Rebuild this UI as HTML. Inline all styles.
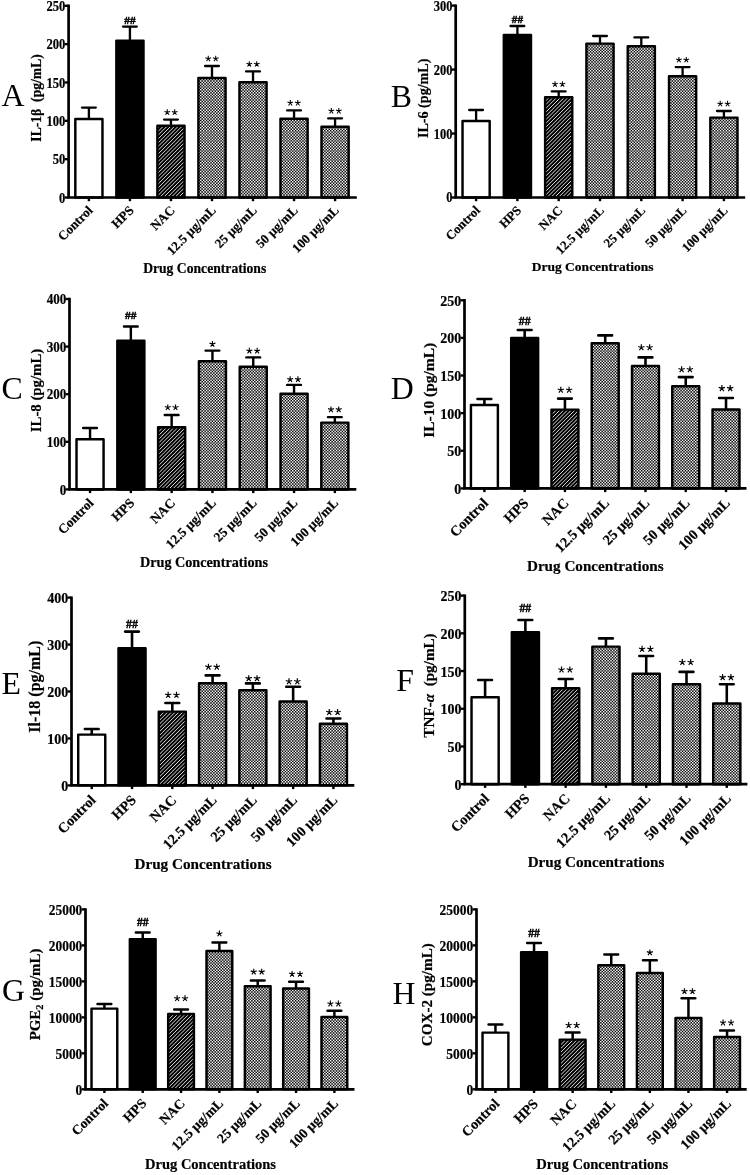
<!DOCTYPE html>
<html><head><meta charset="utf-8"><title>Figure</title>
<style>
html,body{margin:0;padding:0;background:#fff;}
svg{display:block;filter:grayscale(1);}
text{font-family:"Liberation Serif",serif;fill:#000;}
.b{font-weight:bold;stroke:#000;stroke-width:0.2px;}
.s{font-family:"Liberation Sans",sans-serif;}
</style></head>
<body>
<svg width="750" height="1175" viewBox="0 0 750 1175">
<defs>
<pattern id="dots" width="73" height="73" patternUnits="userSpaceOnUse"><rect width="73" height="73" fill="#000"/><path d="M0 0.73h73M0 3.65h73M0 6.57h73M0 9.49h73M0 12.41h73M0 15.33h73M0 18.25h73M0 21.17h73M0 24.09h73M0 27.01h73M0 29.93h73M0 32.85h73M0 35.77h73M0 38.69h73M0 41.61h73M0 44.53h73M0 47.45h73M0 50.37h73M0 53.29h73M0 56.21h73M0 59.13h73M0 62.05h73M0 64.97h73M0 67.89h73M0 70.81h73" stroke="#fff" stroke-width="1.46" stroke-dasharray="1.46 1.46" fill="none"/><path d="M0 2.19h73M0 5.11h73M0 8.03h73M0 10.95h73M0 13.87h73M0 16.79h73M0 19.71h73M0 22.63h73M0 25.55h73M0 28.47h73M0 31.39h73M0 34.31h73M0 37.23h73M0 40.15h73M0 43.07h73M0 45.99h73M0 48.91h73M0 51.83h73M0 54.75h73M0 57.67h73M0 60.59h73M0 63.51h73M0 66.43h73M0 69.35h73M0 72.27h73" stroke="#fff" stroke-width="1.46" stroke-dasharray="1.46 1.46" stroke-dashoffset="1.46" fill="none"/></pattern>
<pattern id="hatch" width="94" height="94" patternUnits="userSpaceOnUse"><rect width="94" height="94" fill="#000"/><path d="M-96 96L2 -2M-92.24 96L5.76 -2M-88.48 96L9.52 -2M-84.72 96L13.28 -2M-80.96 96L17.04 -2M-77.2 96L20.8 -2M-73.44 96L24.56 -2M-69.68 96L28.32 -2M-65.92 96L32.08 -2M-62.16 96L35.84 -2M-58.4 96L39.6 -2M-54.64 96L43.36 -2M-50.88 96L47.12 -2M-47.12 96L50.88 -2M-43.36 96L54.64 -2M-39.6 96L58.4 -2M-35.84 96L62.16 -2M-32.08 96L65.92 -2M-28.32 96L69.68 -2M-24.56 96L73.44 -2M-20.8 96L77.2 -2M-17.04 96L80.96 -2M-13.28 96L84.72 -2M-9.52 96L88.48 -2M-5.76 96L92.24 -2M-2 96L96 -2M1.76 96L99.76 -2M5.52 96L103.52 -2M9.28 96L107.28 -2M13.04 96L111.04 -2M16.8 96L114.8 -2M20.56 96L118.56 -2M24.32 96L122.32 -2M28.08 96L126.08 -2M31.84 96L129.84 -2M35.6 96L133.6 -2M39.36 96L137.36 -2M43.12 96L141.12 -2M46.88 96L144.88 -2M50.64 96L148.64 -2M54.4 96L152.4 -2M58.16 96L156.16 -2M61.92 96L159.92 -2M65.68 96L163.68 -2M69.44 96L167.44 -2M73.2 96L171.2 -2M76.96 96L174.96 -2M80.72 96L178.72 -2M84.48 96L182.48 -2M88.24 96L186.24 -2M92 96L190 -2" stroke="#e4e4e4" stroke-width="0.98" fill="none"/></pattern>
</defs>
<rect width="750" height="1175" fill="#fff"/>
<g id="panel-A">
<path d="M88.9 118.8 V107.6 M82 107.6 H95.8" stroke="#000" stroke-width="2.33" fill="none" stroke-linecap="round"/>
<rect x="75.32" y="119.03" width="27.15" height="78.47" fill="#fff" stroke="#000" stroke-width="2.45" stroke-linejoin="round"/>
<path d="M88.9 197.5 v3.7" stroke="#000" stroke-width="2.4" fill="none"/>
<text class="b" font-size="13" text-anchor="end" transform="translate(93.5 211.1) rotate(-45)">Control</text>
<path d="M129.93 40.4 V26.6 M123.03 26.6 H136.83" stroke="#000" stroke-width="2.33" fill="none" stroke-linecap="round"/>
<rect x="116.35" y="40.62" width="27.15" height="156.88" fill="#000" stroke="#000" stroke-width="2.45" stroke-linejoin="round"/>
<text class="b" x="129.93" y="24" font-size="10.92" text-anchor="middle" textLength="11.26" lengthAdjust="spacingAndGlyphs" style="stroke-width:0.45px">##</text>
<path d="M129.93 197.5 v3.7" stroke="#000" stroke-width="2.4" fill="none"/>
<text class="b" font-size="13" text-anchor="end" transform="translate(134.53 211.1) rotate(-45)">HPS</text>
<path d="M170.96 125.6 V119.6 M164.06 119.6 H177.86" stroke="#000" stroke-width="2.33" fill="none" stroke-linecap="round"/>
<rect x="157.38" y="125.83" width="27.15" height="71.67" fill="url(#hatch)" stroke="#000" stroke-width="2.45" stroke-linejoin="round"/>
<path d="M0 0L0.00 -2.95M0 0L2.81 -0.91M0 0L1.73 2.39M0 0L-1.73 2.39M0 0L-2.81 -0.91" transform="translate(167.22 112.33) scale(1.01)" stroke="#000" stroke-width="1.05" fill="none"/>
<path d="M0 0L0.00 -2.95M0 0L2.81 -0.91M0 0L1.73 2.39M0 0L-1.73 2.39M0 0L-2.81 -0.91" transform="translate(174.7 112.33) scale(1.01)" stroke="#000" stroke-width="1.05" fill="none"/>
<path d="M170.96 197.5 v3.7" stroke="#000" stroke-width="2.4" fill="none"/>
<text class="b" font-size="13" text-anchor="end" transform="translate(175.56 211.1) rotate(-45)">NAC</text>
<path d="M211.99 77.8 V66 M205.09 66 H218.89" stroke="#000" stroke-width="2.33" fill="none" stroke-linecap="round"/>
<rect x="198.41" y="78.03" width="27.15" height="119.47" fill="url(#dots)" stroke="#000" stroke-width="2.45" stroke-linejoin="round"/>
<path d="M0 0L0.00 -2.95M0 0L2.81 -0.91M0 0L1.73 2.39M0 0L-1.73 2.39M0 0L-2.81 -0.91" transform="translate(208.25 58.73) scale(1.01)" stroke="#000" stroke-width="1.05" fill="none"/>
<path d="M0 0L0.00 -2.95M0 0L2.81 -0.91M0 0L1.73 2.39M0 0L-1.73 2.39M0 0L-2.81 -0.91" transform="translate(215.73 58.73) scale(1.01)" stroke="#000" stroke-width="1.05" fill="none"/>
<path d="M211.99 197.5 v3.7" stroke="#000" stroke-width="2.4" fill="none"/>
<text class="b" font-size="13" text-anchor="end" transform="translate(216.59 211.1) rotate(-45)">12.5 µg/mL</text>
<path d="M253.02 82 V71.4 M246.12 71.4 H259.92" stroke="#000" stroke-width="2.33" fill="none" stroke-linecap="round"/>
<rect x="239.44" y="82.22" width="27.15" height="115.28" fill="url(#dots)" stroke="#000" stroke-width="2.45" stroke-linejoin="round"/>
<path d="M0 0L0.00 -2.95M0 0L2.81 -0.91M0 0L1.73 2.39M0 0L-1.73 2.39M0 0L-2.81 -0.91" transform="translate(249.28 64.13) scale(1.01)" stroke="#000" stroke-width="1.05" fill="none"/>
<path d="M0 0L0.00 -2.95M0 0L2.81 -0.91M0 0L1.73 2.39M0 0L-1.73 2.39M0 0L-2.81 -0.91" transform="translate(256.76 64.13) scale(1.01)" stroke="#000" stroke-width="1.05" fill="none"/>
<path d="M253.02 197.5 v3.7" stroke="#000" stroke-width="2.4" fill="none"/>
<text class="b" font-size="13" text-anchor="end" transform="translate(257.62 211.1) rotate(-45)">25 µg/mL</text>
<path d="M294.05 118.6 V110.3 M287.15 110.3 H300.95" stroke="#000" stroke-width="2.33" fill="none" stroke-linecap="round"/>
<rect x="280.48" y="118.83" width="27.15" height="78.67" fill="url(#dots)" stroke="#000" stroke-width="2.45" stroke-linejoin="round"/>
<path d="M0 0L0.00 -2.95M0 0L2.81 -0.91M0 0L1.73 2.39M0 0L-1.73 2.39M0 0L-2.81 -0.91" transform="translate(290.31 103.03) scale(1.01)" stroke="#000" stroke-width="1.05" fill="none"/>
<path d="M0 0L0.00 -2.95M0 0L2.81 -0.91M0 0L1.73 2.39M0 0L-1.73 2.39M0 0L-2.81 -0.91" transform="translate(297.79 103.03) scale(1.01)" stroke="#000" stroke-width="1.05" fill="none"/>
<path d="M294.05 197.5 v3.7" stroke="#000" stroke-width="2.4" fill="none"/>
<text class="b" font-size="13" text-anchor="end" transform="translate(298.65 211.1) rotate(-45)">50 µg/mL</text>
<path d="M335.08 126.6 V118.3 M328.18 118.3 H341.98" stroke="#000" stroke-width="2.33" fill="none" stroke-linecap="round"/>
<rect x="321.5" y="126.83" width="27.15" height="70.67" fill="url(#dots)" stroke="#000" stroke-width="2.45" stroke-linejoin="round"/>
<path d="M0 0L0.00 -2.95M0 0L2.81 -0.91M0 0L1.73 2.39M0 0L-1.73 2.39M0 0L-2.81 -0.91" transform="translate(331.34 111.03) scale(1.01)" stroke="#000" stroke-width="1.05" fill="none"/>
<path d="M0 0L0.00 -2.95M0 0L2.81 -0.91M0 0L1.73 2.39M0 0L-1.73 2.39M0 0L-2.81 -0.91" transform="translate(338.82 111.03) scale(1.01)" stroke="#000" stroke-width="1.05" fill="none"/>
<path d="M335.08 197.5 v3.7" stroke="#000" stroke-width="2.4" fill="none"/>
<text class="b" font-size="13" text-anchor="end" transform="translate(339.68 211.1) rotate(-45)">100 µg/mL</text>
<path d="M68.6 4.6 V197.5 H356.8" stroke="#000" stroke-width="2.7" fill="none" stroke-linejoin="miter"/>
<path d="M68.6 197.5 h-3.9" stroke="#000" stroke-width="2.35" fill="none"/>
<text class="b" font-size="13.71" text-anchor="end" transform="translate(65.4 202.53) scale(0.92 1)">0</text>
<path d="M68.6 159.16 h-3.9" stroke="#000" stroke-width="2.35" fill="none"/>
<text class="b" font-size="13.71" text-anchor="end" transform="translate(65.4 164.19) scale(0.92 1)">50</text>
<path d="M68.6 120.82 h-3.9" stroke="#000" stroke-width="2.35" fill="none"/>
<text class="b" font-size="13.71" text-anchor="end" transform="translate(65.4 125.85) scale(0.92 1)">100</text>
<path d="M68.6 82.48 h-3.9" stroke="#000" stroke-width="2.35" fill="none"/>
<text class="b" font-size="13.71" text-anchor="end" transform="translate(65.4 87.51) scale(0.92 1)">150</text>
<path d="M68.6 44.14 h-3.9" stroke="#000" stroke-width="2.35" fill="none"/>
<text class="b" font-size="13.71" text-anchor="end" transform="translate(65.4 49.17) scale(0.92 1)">200</text>
<path d="M68.6 5.8 h-3.9" stroke="#000" stroke-width="2.35" fill="none"/>
<text class="b" font-size="13.71" text-anchor="end" transform="translate(65.4 10.83) scale(0.92 1)">250</text>
<text font-size="31.8" x="1.5" y="106.4">A</text>
<text class="b" font-size="13.65" text-anchor="middle" transform="translate(40.6 97.9) rotate(-90)">IL-1β  (pg/mL)</text>
<text class="b" font-size="13.65" text-anchor="middle" x="204.7" y="272.6">Drug Concentrations</text>
</g>
<g id="panel-B">
<path d="M476.1 120.8 V110 M469.2 110 H483" stroke="#000" stroke-width="2.3" fill="none" stroke-linecap="round"/>
<rect x="462.53" y="121.03" width="27.15" height="76.47" fill="#fff" stroke="#000" stroke-width="2.45" stroke-linejoin="round"/>
<path d="M476.1 197.5 v3.7" stroke="#000" stroke-width="2.4" fill="none"/>
<text class="b" font-size="12.8" text-anchor="end" transform="translate(480.8 211.1) rotate(-45)">Control</text>
<path d="M517.4 34.8 V26 M510.5 26 H524.3" stroke="#000" stroke-width="2.3" fill="none" stroke-linecap="round"/>
<rect x="503.83" y="35.02" width="27.15" height="162.47" fill="#000" stroke="#000" stroke-width="2.45" stroke-linejoin="round"/>
<text class="b" x="517.4" y="23.4" font-size="10.8" text-anchor="middle" textLength="11.2" lengthAdjust="spacingAndGlyphs" style="stroke-width:0.45px">##</text>
<path d="M517.4 197.5 v3.7" stroke="#000" stroke-width="2.4" fill="none"/>
<text class="b" font-size="12.8" text-anchor="end" transform="translate(522.1 211.1) rotate(-45)">HPS</text>
<path d="M558.7 97 V91.4 M551.8 91.4 H565.6" stroke="#000" stroke-width="2.3" fill="none" stroke-linecap="round"/>
<rect x="545.12" y="97.22" width="27.15" height="100.28" fill="url(#hatch)" stroke="#000" stroke-width="2.45" stroke-linejoin="round"/>
<path d="M0 0L0.00 -2.95M0 0L2.81 -0.91M0 0L1.73 2.39M0 0L-1.73 2.39M0 0L-2.81 -0.91" transform="translate(555 84.2) scale(1)" stroke="#000" stroke-width="1.05" fill="none"/>
<path d="M0 0L0.00 -2.95M0 0L2.81 -0.91M0 0L1.73 2.39M0 0L-1.73 2.39M0 0L-2.81 -0.91" transform="translate(562.4 84.2) scale(1)" stroke="#000" stroke-width="1.05" fill="none"/>
<path d="M558.7 197.5 v3.7" stroke="#000" stroke-width="2.4" fill="none"/>
<text class="b" font-size="12.8" text-anchor="end" transform="translate(563.4 211.1) rotate(-45)">NAC</text>
<path d="M600 43.4 V36 M593.1 36 H606.9" stroke="#000" stroke-width="2.3" fill="none" stroke-linecap="round"/>
<rect x="586.43" y="43.62" width="27.15" height="153.88" fill="url(#dots)" stroke="#000" stroke-width="2.45" stroke-linejoin="round"/>
<path d="M600 197.5 v3.7" stroke="#000" stroke-width="2.4" fill="none"/>
<text class="b" font-size="12.8" text-anchor="end" transform="translate(604.7 211.1) rotate(-45)">12.5 µg/mL</text>
<path d="M641.3 46 V37.4 M634.4 37.4 H648.2" stroke="#000" stroke-width="2.3" fill="none" stroke-linecap="round"/>
<rect x="627.73" y="46.23" width="27.15" height="151.28" fill="url(#dots)" stroke="#000" stroke-width="2.45" stroke-linejoin="round"/>
<path d="M641.3 197.5 v3.7" stroke="#000" stroke-width="2.4" fill="none"/>
<text class="b" font-size="12.8" text-anchor="end" transform="translate(646 211.1) rotate(-45)">25 µg/mL</text>
<path d="M682.6 76.1 V67.1 M675.7 67.1 H689.5" stroke="#000" stroke-width="2.3" fill="none" stroke-linecap="round"/>
<rect x="669.02" y="76.33" width="27.15" height="121.17" fill="url(#dots)" stroke="#000" stroke-width="2.45" stroke-linejoin="round"/>
<path d="M0 0L0.00 -2.95M0 0L2.81 -0.91M0 0L1.73 2.39M0 0L-1.73 2.39M0 0L-2.81 -0.91" transform="translate(678.9 59.9) scale(1)" stroke="#000" stroke-width="1.05" fill="none"/>
<path d="M0 0L0.00 -2.95M0 0L2.81 -0.91M0 0L1.73 2.39M0 0L-1.73 2.39M0 0L-2.81 -0.91" transform="translate(686.3 59.9) scale(1)" stroke="#000" stroke-width="1.05" fill="none"/>
<path d="M682.6 197.5 v3.7" stroke="#000" stroke-width="2.4" fill="none"/>
<text class="b" font-size="12.8" text-anchor="end" transform="translate(687.3 211.1) rotate(-45)">50 µg/mL</text>
<path d="M723.9 117.4 V111 M717 111 H730.8" stroke="#000" stroke-width="2.3" fill="none" stroke-linecap="round"/>
<rect x="710.33" y="117.62" width="27.15" height="79.88" fill="url(#dots)" stroke="#000" stroke-width="2.45" stroke-linejoin="round"/>
<path d="M0 0L0.00 -2.95M0 0L2.81 -0.91M0 0L1.73 2.39M0 0L-1.73 2.39M0 0L-2.81 -0.91" transform="translate(720.2 103.8) scale(1)" stroke="#000" stroke-width="1.05" fill="none"/>
<path d="M0 0L0.00 -2.95M0 0L2.81 -0.91M0 0L1.73 2.39M0 0L-1.73 2.39M0 0L-2.81 -0.91" transform="translate(727.6 103.8) scale(1)" stroke="#000" stroke-width="1.05" fill="none"/>
<path d="M723.9 197.5 v3.7" stroke="#000" stroke-width="2.4" fill="none"/>
<text class="b" font-size="12.8" text-anchor="end" transform="translate(728.6 211.1) rotate(-45)">100 µg/mL</text>
<path d="M455.7 4.4 V197.5 H745.2" stroke="#000" stroke-width="2.7" fill="none" stroke-linejoin="miter"/>
<path d="M455.7 197.5 h-3.9" stroke="#000" stroke-width="2.35" fill="none"/>
<text class="b" font-size="13.56" text-anchor="end" transform="translate(452.5 202.48) scale(0.92 1)">0</text>
<path d="M455.7 133.53 h-3.9" stroke="#000" stroke-width="2.35" fill="none"/>
<text class="b" font-size="13.56" text-anchor="end" transform="translate(452.5 138.51) scale(0.92 1)">100</text>
<path d="M455.7 69.57 h-3.9" stroke="#000" stroke-width="2.35" fill="none"/>
<text class="b" font-size="13.56" text-anchor="end" transform="translate(452.5 74.54) scale(0.92 1)">200</text>
<path d="M455.7 5.6 h-3.9" stroke="#000" stroke-width="2.35" fill="none"/>
<text class="b" font-size="13.56" text-anchor="end" transform="translate(452.5 10.58) scale(0.92 1)">300</text>
<text font-size="31.8" x="390.7" y="106.5">B</text>
<text class="b" font-size="14.1" text-anchor="middle" transform="translate(428.2 98.3) rotate(-90)">IL-6 (pg/mL)</text>
<text class="b" font-size="13.5" text-anchor="middle" x="592.7" y="271">Drug Concentrations</text>
</g>
<g id="panel-C">
<path d="M90.05 439 V428 M83.15 428 H96.95" stroke="#000" stroke-width="2.42" fill="none" stroke-linecap="round"/>
<rect x="76.52" y="439.23" width="27.05" height="50.17" fill="#fff" stroke="#000" stroke-width="2.45" stroke-linejoin="round"/>
<path d="M90.05 489.4 v3.7" stroke="#000" stroke-width="2.4" fill="none"/>
<text class="b" font-size="13.3" text-anchor="end" transform="translate(94.35 503.8) rotate(-45)">Control</text>
<path d="M130.85 340.4 V326.5 M123.95 326.5 H137.75" stroke="#000" stroke-width="2.42" fill="none" stroke-linecap="round"/>
<rect x="117.32" y="340.62" width="27.05" height="148.78" fill="#000" stroke="#000" stroke-width="2.45" stroke-linejoin="round"/>
<text class="b" x="130.85" y="318.5" font-size="11.36" text-anchor="middle" textLength="11.46" lengthAdjust="spacingAndGlyphs" style="stroke-width:0.45px">##</text>
<path d="M130.85 489.4 v3.7" stroke="#000" stroke-width="2.4" fill="none"/>
<text class="b" font-size="13.3" text-anchor="end" transform="translate(135.15 503.8) rotate(-45)">HPS</text>
<path d="M171.65 427 V415 M164.75 415 H178.55" stroke="#000" stroke-width="2.42" fill="none" stroke-linecap="round"/>
<rect x="158.12" y="427.23" width="27.05" height="62.17" fill="url(#hatch)" stroke="#000" stroke-width="2.45" stroke-linejoin="round"/>
<path d="M0 0L0.00 -2.95M0 0L2.81 -0.91M0 0L1.73 2.39M0 0L-1.73 2.39M0 0L-2.81 -0.91" transform="translate(167.76 407.49) scale(1.05)" stroke="#000" stroke-width="1.05" fill="none"/>
<path d="M0 0L0.00 -2.95M0 0L2.81 -0.91M0 0L1.73 2.39M0 0L-1.73 2.39M0 0L-2.81 -0.91" transform="translate(175.54 407.49) scale(1.05)" stroke="#000" stroke-width="1.05" fill="none"/>
<path d="M171.65 489.4 v3.7" stroke="#000" stroke-width="2.4" fill="none"/>
<text class="b" font-size="13.3" text-anchor="end" transform="translate(175.95 503.8) rotate(-45)">NAC</text>
<path d="M212.45 361 V350.6 M205.55 350.6 H219.35" stroke="#000" stroke-width="2.42" fill="none" stroke-linecap="round"/>
<rect x="198.92" y="361.23" width="27.05" height="128.17" fill="url(#dots)" stroke="#000" stroke-width="2.45" stroke-linejoin="round"/>
<path d="M0 0L0.00 -2.95M0 0L2.81 -0.91M0 0L1.73 2.39M0 0L-1.73 2.39M0 0L-2.81 -0.91" transform="translate(212.45 344.09) scale(1.05)" stroke="#000" stroke-width="1.05" fill="none"/>
<path d="M212.45 489.4 v3.7" stroke="#000" stroke-width="2.4" fill="none"/>
<text class="b" font-size="13.3" text-anchor="end" transform="translate(216.75 503.8) rotate(-45)">12.5 µg/mL</text>
<path d="M253.25 366.6 V357.4 M246.35 357.4 H260.15" stroke="#000" stroke-width="2.42" fill="none" stroke-linecap="round"/>
<rect x="239.72" y="366.82" width="27.05" height="122.58" fill="url(#dots)" stroke="#000" stroke-width="2.45" stroke-linejoin="round"/>
<path d="M0 0L0.00 -2.95M0 0L2.81 -0.91M0 0L1.73 2.39M0 0L-1.73 2.39M0 0L-2.81 -0.91" transform="translate(249.36 350.89) scale(1.05)" stroke="#000" stroke-width="1.05" fill="none"/>
<path d="M0 0L0.00 -2.95M0 0L2.81 -0.91M0 0L1.73 2.39M0 0L-1.73 2.39M0 0L-2.81 -0.91" transform="translate(257.14 350.89) scale(1.05)" stroke="#000" stroke-width="1.05" fill="none"/>
<path d="M253.25 489.4 v3.7" stroke="#000" stroke-width="2.4" fill="none"/>
<text class="b" font-size="13.3" text-anchor="end" transform="translate(257.55 503.8) rotate(-45)">25 µg/mL</text>
<path d="M294.05 393.6 V384.9 M287.15 384.9 H300.95" stroke="#000" stroke-width="2.42" fill="none" stroke-linecap="round"/>
<rect x="280.53" y="393.82" width="27.05" height="95.58" fill="url(#dots)" stroke="#000" stroke-width="2.45" stroke-linejoin="round"/>
<path d="M0 0L0.00 -2.95M0 0L2.81 -0.91M0 0L1.73 2.39M0 0L-1.73 2.39M0 0L-2.81 -0.91" transform="translate(290.16 379.39) scale(1.05)" stroke="#000" stroke-width="1.05" fill="none"/>
<path d="M0 0L0.00 -2.95M0 0L2.81 -0.91M0 0L1.73 2.39M0 0L-1.73 2.39M0 0L-2.81 -0.91" transform="translate(297.94 379.39) scale(1.05)" stroke="#000" stroke-width="1.05" fill="none"/>
<path d="M294.05 489.4 v3.7" stroke="#000" stroke-width="2.4" fill="none"/>
<text class="b" font-size="13.3" text-anchor="end" transform="translate(298.35 503.8) rotate(-45)">50 µg/mL</text>
<path d="M334.85 422.4 V417.1 M327.95 417.1 H341.75" stroke="#000" stroke-width="2.42" fill="none" stroke-linecap="round"/>
<rect x="321.32" y="422.62" width="27.05" height="66.78" fill="url(#dots)" stroke="#000" stroke-width="2.45" stroke-linejoin="round"/>
<path d="M0 0L0.00 -2.95M0 0L2.81 -0.91M0 0L1.73 2.39M0 0L-1.73 2.39M0 0L-2.81 -0.91" transform="translate(330.96 409.59) scale(1.05)" stroke="#000" stroke-width="1.05" fill="none"/>
<path d="M0 0L0.00 -2.95M0 0L2.81 -0.91M0 0L1.73 2.39M0 0L-1.73 2.39M0 0L-2.81 -0.91" transform="translate(338.74 409.59) scale(1.05)" stroke="#000" stroke-width="1.05" fill="none"/>
<path d="M334.85 489.4 v3.7" stroke="#000" stroke-width="2.4" fill="none"/>
<text class="b" font-size="13.3" text-anchor="end" transform="translate(339.15 503.8) rotate(-45)">100 µg/mL</text>
<path d="M69.5 297.8 V489.4 H356.3" stroke="#000" stroke-width="2.7" fill="none" stroke-linejoin="miter"/>
<path d="M69.5 489.4 h-3.9" stroke="#000" stroke-width="2.35" fill="none"/>
<text class="b" font-size="14.26" text-anchor="end" transform="translate(66.3 494.61) scale(0.92 1)">0</text>
<path d="M69.5 441.8 h-3.9" stroke="#000" stroke-width="2.35" fill="none"/>
<text class="b" font-size="14.26" text-anchor="end" transform="translate(66.3 447.01) scale(0.92 1)">100</text>
<path d="M69.5 394.2 h-3.9" stroke="#000" stroke-width="2.35" fill="none"/>
<text class="b" font-size="14.26" text-anchor="end" transform="translate(66.3 399.41) scale(0.92 1)">200</text>
<path d="M69.5 346.6 h-3.9" stroke="#000" stroke-width="2.35" fill="none"/>
<text class="b" font-size="14.26" text-anchor="end" transform="translate(66.3 351.81) scale(0.92 1)">300</text>
<path d="M69.5 299 h-3.9" stroke="#000" stroke-width="2.35" fill="none"/>
<text class="b" font-size="14.26" text-anchor="end" transform="translate(66.3 304.21) scale(0.92 1)">400</text>
<text font-size="31.8" x="1.6" y="398.7">C</text>
<text class="b" font-size="14.8" text-anchor="middle" transform="translate(41.4 390.5) rotate(-90)">IL-8 (pg/mL)</text>
<text class="b" font-size="14.2" text-anchor="middle" x="204" y="566.6">Drug Concentrations</text>
</g>
<g id="panel-D">
<path d="M484.4 404.8 V399 M477.5 399 H491.3" stroke="#000" stroke-width="2.58" fill="none" stroke-linecap="round"/>
<rect x="470.93" y="405.02" width="26.95" height="83.38" fill="#fff" stroke="#000" stroke-width="2.45" stroke-linejoin="round"/>
<path d="M484.4 488.4 v3.7" stroke="#000" stroke-width="2.4" fill="none"/>
<text class="b" font-size="14.37" text-anchor="end" transform="translate(489.1 504) rotate(-45)">Control</text>
<path d="M524.67 337.8 V330 M517.77 330 H531.57" stroke="#000" stroke-width="2.58" fill="none" stroke-linecap="round"/>
<rect x="511.19" y="338.02" width="26.95" height="150.38" fill="#000" stroke="#000" stroke-width="2.45" stroke-linejoin="round"/>
<text class="b" x="524.67" y="325.1" font-size="12.12" text-anchor="middle" textLength="11.81" lengthAdjust="spacingAndGlyphs" style="stroke-width:0.45px">##</text>
<path d="M524.67 488.4 v3.7" stroke="#000" stroke-width="2.4" fill="none"/>
<text class="b" font-size="14.37" text-anchor="end" transform="translate(529.37 504) rotate(-45)">HPS</text>
<path d="M564.94 409.4 V398.6 M558.04 398.6 H571.84" stroke="#000" stroke-width="2.58" fill="none" stroke-linecap="round"/>
<rect x="551.47" y="409.62" width="26.95" height="78.78" fill="url(#hatch)" stroke="#000" stroke-width="2.45" stroke-linejoin="round"/>
<path d="M0 0L0.00 -2.95M0 0L2.81 -0.91M0 0L1.73 2.39M0 0L-1.73 2.39M0 0L-2.81 -0.91" transform="translate(560.79 389.98) scale(1.12)" stroke="#000" stroke-width="1.05" fill="none"/>
<path d="M0 0L0.00 -2.95M0 0L2.81 -0.91M0 0L1.73 2.39M0 0L-1.73 2.39M0 0L-2.81 -0.91" transform="translate(569.09 389.98) scale(1.12)" stroke="#000" stroke-width="1.05" fill="none"/>
<path d="M564.94 488.4 v3.7" stroke="#000" stroke-width="2.4" fill="none"/>
<text class="b" font-size="14.37" text-anchor="end" transform="translate(569.64 504) rotate(-45)">NAC</text>
<path d="M605.21 343 V335.4 M598.31 335.4 H612.11" stroke="#000" stroke-width="2.58" fill="none" stroke-linecap="round"/>
<rect x="591.74" y="343.23" width="26.95" height="145.17" fill="url(#dots)" stroke="#000" stroke-width="2.45" stroke-linejoin="round"/>
<path d="M605.21 488.4 v3.7" stroke="#000" stroke-width="2.4" fill="none"/>
<text class="b" font-size="14.37" text-anchor="end" transform="translate(609.91 504) rotate(-45)">12.5 µg/mL</text>
<path d="M645.48 365.8 V357.4 M638.58 357.4 H652.38" stroke="#000" stroke-width="2.58" fill="none" stroke-linecap="round"/>
<rect x="632" y="366.02" width="26.95" height="122.38" fill="url(#dots)" stroke="#000" stroke-width="2.45" stroke-linejoin="round"/>
<path d="M0 0L0.00 -2.95M0 0L2.81 -0.91M0 0L1.73 2.39M0 0L-1.73 2.39M0 0L-2.81 -0.91" transform="translate(641.33 347.48) scale(1.12)" stroke="#000" stroke-width="1.05" fill="none"/>
<path d="M0 0L0.00 -2.95M0 0L2.81 -0.91M0 0L1.73 2.39M0 0L-1.73 2.39M0 0L-2.81 -0.91" transform="translate(649.63 347.48) scale(1.12)" stroke="#000" stroke-width="1.05" fill="none"/>
<path d="M645.48 488.4 v3.7" stroke="#000" stroke-width="2.4" fill="none"/>
<text class="b" font-size="14.37" text-anchor="end" transform="translate(650.18 504) rotate(-45)">25 µg/mL</text>
<path d="M685.75 386 V377.1 M678.85 377.1 H692.65" stroke="#000" stroke-width="2.58" fill="none" stroke-linecap="round"/>
<rect x="672.27" y="386.23" width="26.95" height="102.17" fill="url(#dots)" stroke="#000" stroke-width="2.45" stroke-linejoin="round"/>
<path d="M0 0L0.00 -2.95M0 0L2.81 -0.91M0 0L1.73 2.39M0 0L-1.73 2.39M0 0L-2.81 -0.91" transform="translate(681.6 369.48) scale(1.12)" stroke="#000" stroke-width="1.05" fill="none"/>
<path d="M0 0L0.00 -2.95M0 0L2.81 -0.91M0 0L1.73 2.39M0 0L-1.73 2.39M0 0L-2.81 -0.91" transform="translate(689.9 369.48) scale(1.12)" stroke="#000" stroke-width="1.05" fill="none"/>
<path d="M685.75 488.4 v3.7" stroke="#000" stroke-width="2.4" fill="none"/>
<text class="b" font-size="14.37" text-anchor="end" transform="translate(690.45 504) rotate(-45)">50 µg/mL</text>
<path d="M726.02 409.2 V398 M719.12 398 H732.92" stroke="#000" stroke-width="2.58" fill="none" stroke-linecap="round"/>
<rect x="712.54" y="409.43" width="26.95" height="78.97" fill="url(#dots)" stroke="#000" stroke-width="2.45" stroke-linejoin="round"/>
<path d="M0 0L0.00 -2.95M0 0L2.81 -0.91M0 0L1.73 2.39M0 0L-1.73 2.39M0 0L-2.81 -0.91" transform="translate(721.87 388.38) scale(1.12)" stroke="#000" stroke-width="1.05" fill="none"/>
<path d="M0 0L0.00 -2.95M0 0L2.81 -0.91M0 0L1.73 2.39M0 0L-1.73 2.39M0 0L-2.81 -0.91" transform="translate(730.17 388.38) scale(1.12)" stroke="#000" stroke-width="1.05" fill="none"/>
<path d="M726.02 488.4 v3.7" stroke="#000" stroke-width="2.4" fill="none"/>
<text class="b" font-size="14.37" text-anchor="end" transform="translate(730.72 504) rotate(-45)">100 µg/mL</text>
<path d="M464.5 299.1 V488.4 H746.5" stroke="#000" stroke-width="2.7" fill="none" stroke-linejoin="miter"/>
<path d="M464.5 488.4 h-3.9" stroke="#000" stroke-width="2.35" fill="none"/>
<text class="b" font-size="15.22" text-anchor="end" transform="translate(461.3 493.94) scale(0.92 1)">0</text>
<path d="M464.5 450.78 h-3.9" stroke="#000" stroke-width="2.35" fill="none"/>
<text class="b" font-size="15.22" text-anchor="end" transform="translate(461.3 456.32) scale(0.92 1)">50</text>
<path d="M464.5 413.16 h-3.9" stroke="#000" stroke-width="2.35" fill="none"/>
<text class="b" font-size="15.22" text-anchor="end" transform="translate(461.3 418.7) scale(0.92 1)">100</text>
<path d="M464.5 375.54 h-3.9" stroke="#000" stroke-width="2.35" fill="none"/>
<text class="b" font-size="15.22" text-anchor="end" transform="translate(461.3 381.08) scale(0.92 1)">150</text>
<path d="M464.5 337.92 h-3.9" stroke="#000" stroke-width="2.35" fill="none"/>
<text class="b" font-size="15.22" text-anchor="end" transform="translate(461.3 343.46) scale(0.92 1)">200</text>
<path d="M464.5 300.3 h-3.9" stroke="#000" stroke-width="2.35" fill="none"/>
<text class="b" font-size="15.22" text-anchor="end" transform="translate(461.3 305.84) scale(0.92 1)">250</text>
<text font-size="31.8" x="390.8" y="399">D</text>
<text class="b" font-size="15.45" text-anchor="middle" transform="translate(433.6 390.3) rotate(-90)">IL-10 (pg/mL)</text>
<text class="b" font-size="15.15" text-anchor="middle" x="595.3" y="571.4">Drug Concentrations</text>
</g>
<g id="panel-E">
<path d="M91.75 734.4 V729 M84.85 729 H98.65" stroke="#000" stroke-width="2.59" fill="none" stroke-linecap="round"/>
<rect x="78.22" y="734.62" width="27.05" height="50.77" fill="#fff" stroke="#000" stroke-width="2.45" stroke-linejoin="round"/>
<path d="M91.75 785.4 v3.7" stroke="#000" stroke-width="2.4" fill="none"/>
<text class="b" font-size="14.3" text-anchor="end" transform="translate(96.65 800.9) rotate(-45)">Control</text>
<path d="M132.03 648 V631.6 M125.13 631.6 H138.93" stroke="#000" stroke-width="2.59" fill="none" stroke-linecap="round"/>
<rect x="118.5" y="648.23" width="27.05" height="137.17" fill="#000" stroke="#000" stroke-width="2.45" stroke-linejoin="round"/>
<text class="b" x="132.03" y="628.3" font-size="12.16" text-anchor="middle" textLength="11.83" lengthAdjust="spacingAndGlyphs" style="stroke-width:0.45px">##</text>
<path d="M132.03 785.4 v3.7" stroke="#000" stroke-width="2.4" fill="none"/>
<text class="b" font-size="14.3" text-anchor="end" transform="translate(136.93 800.9) rotate(-45)">HPS</text>
<path d="M172.31 711.4 V703 M165.41 703 H179.21" stroke="#000" stroke-width="2.59" fill="none" stroke-linecap="round"/>
<rect x="158.78" y="711.62" width="27.05" height="73.78" fill="url(#hatch)" stroke="#000" stroke-width="2.45" stroke-linejoin="round"/>
<path d="M0 0L0.00 -2.95M0 0L2.81 -0.91M0 0L1.73 2.39M0 0L-1.73 2.39M0 0L-2.81 -0.91" transform="translate(168.14 695.06) scale(1.13)" stroke="#000" stroke-width="1.05" fill="none"/>
<path d="M0 0L0.00 -2.95M0 0L2.81 -0.91M0 0L1.73 2.39M0 0L-1.73 2.39M0 0L-2.81 -0.91" transform="translate(176.48 695.06) scale(1.13)" stroke="#000" stroke-width="1.05" fill="none"/>
<path d="M172.31 785.4 v3.7" stroke="#000" stroke-width="2.4" fill="none"/>
<text class="b" font-size="14.3" text-anchor="end" transform="translate(177.21 800.9) rotate(-45)">NAC</text>
<path d="M212.59 683 V675.4 M205.69 675.4 H219.49" stroke="#000" stroke-width="2.59" fill="none" stroke-linecap="round"/>
<rect x="199.06" y="683.23" width="27.05" height="102.17" fill="url(#dots)" stroke="#000" stroke-width="2.45" stroke-linejoin="round"/>
<path d="M0 0L0.00 -2.95M0 0L2.81 -0.91M0 0L1.73 2.39M0 0L-1.73 2.39M0 0L-2.81 -0.91" transform="translate(208.42 666.96) scale(1.13)" stroke="#000" stroke-width="1.05" fill="none"/>
<path d="M0 0L0.00 -2.95M0 0L2.81 -0.91M0 0L1.73 2.39M0 0L-1.73 2.39M0 0L-2.81 -0.91" transform="translate(216.76 666.96) scale(1.13)" stroke="#000" stroke-width="1.05" fill="none"/>
<path d="M212.59 785.4 v3.7" stroke="#000" stroke-width="2.4" fill="none"/>
<text class="b" font-size="14.3" text-anchor="end" transform="translate(217.49 800.9) rotate(-45)">12.5 µg/mL</text>
<path d="M252.87 690 V683.4 M245.97 683.4 H259.77" stroke="#000" stroke-width="2.59" fill="none" stroke-linecap="round"/>
<rect x="239.34" y="690.23" width="27.05" height="95.17" fill="url(#dots)" stroke="#000" stroke-width="2.45" stroke-linejoin="round"/>
<path d="M0 0L0.00 -2.95M0 0L2.81 -0.91M0 0L1.73 2.39M0 0L-1.73 2.39M0 0L-2.81 -0.91" transform="translate(248.7 678.46) scale(1.13)" stroke="#000" stroke-width="1.05" fill="none"/>
<path d="M0 0L0.00 -2.95M0 0L2.81 -0.91M0 0L1.73 2.39M0 0L-1.73 2.39M0 0L-2.81 -0.91" transform="translate(257.04 678.46) scale(1.13)" stroke="#000" stroke-width="1.05" fill="none"/>
<path d="M252.87 785.4 v3.7" stroke="#000" stroke-width="2.4" fill="none"/>
<text class="b" font-size="14.3" text-anchor="end" transform="translate(257.77 800.9) rotate(-45)">25 µg/mL</text>
<path d="M293.15 701.2 V686.8 M286.25 686.8 H300.05" stroke="#000" stroke-width="2.59" fill="none" stroke-linecap="round"/>
<rect x="279.62" y="701.42" width="27.05" height="83.98" fill="url(#dots)" stroke="#000" stroke-width="2.45" stroke-linejoin="round"/>
<path d="M0 0L0.00 -2.95M0 0L2.81 -0.91M0 0L1.73 2.39M0 0L-1.73 2.39M0 0L-2.81 -0.91" transform="translate(288.98 681.56) scale(1.13)" stroke="#000" stroke-width="1.05" fill="none"/>
<path d="M0 0L0.00 -2.95M0 0L2.81 -0.91M0 0L1.73 2.39M0 0L-1.73 2.39M0 0L-2.81 -0.91" transform="translate(297.32 681.56) scale(1.13)" stroke="#000" stroke-width="1.05" fill="none"/>
<path d="M293.15 785.4 v3.7" stroke="#000" stroke-width="2.4" fill="none"/>
<text class="b" font-size="14.3" text-anchor="end" transform="translate(298.05 800.9) rotate(-45)">50 µg/mL</text>
<path d="M333.43 723.5 V718.5 M326.53 718.5 H340.33" stroke="#000" stroke-width="2.59" fill="none" stroke-linecap="round"/>
<rect x="319.91" y="723.73" width="27.05" height="61.67" fill="url(#dots)" stroke="#000" stroke-width="2.45" stroke-linejoin="round"/>
<path d="M0 0L0.00 -2.95M0 0L2.81 -0.91M0 0L1.73 2.39M0 0L-1.73 2.39M0 0L-2.81 -0.91" transform="translate(329.26 712.26) scale(1.13)" stroke="#000" stroke-width="1.05" fill="none"/>
<path d="M0 0L0.00 -2.95M0 0L2.81 -0.91M0 0L1.73 2.39M0 0L-1.73 2.39M0 0L-2.81 -0.91" transform="translate(337.6 712.26) scale(1.13)" stroke="#000" stroke-width="1.05" fill="none"/>
<path d="M333.43 785.4 v3.7" stroke="#000" stroke-width="2.4" fill="none"/>
<text class="b" font-size="14.3" text-anchor="end" transform="translate(338.33 800.9) rotate(-45)">100 µg/mL</text>
<path d="M71.5 596.4 V785.4 H354.3" stroke="#000" stroke-width="2.7" fill="none" stroke-linejoin="miter"/>
<path d="M71.5 785.4 h-3.9" stroke="#000" stroke-width="2.35" fill="none"/>
<text class="b" font-size="15.27" text-anchor="end" transform="translate(68.3 790.95) scale(0.92 1)">0</text>
<path d="M71.5 738.45 h-3.9" stroke="#000" stroke-width="2.35" fill="none"/>
<text class="b" font-size="15.27" text-anchor="end" transform="translate(68.3 744) scale(0.92 1)">100</text>
<path d="M71.5 691.5 h-3.9" stroke="#000" stroke-width="2.35" fill="none"/>
<text class="b" font-size="15.27" text-anchor="end" transform="translate(68.3 697.05) scale(0.92 1)">200</text>
<path d="M71.5 644.55 h-3.9" stroke="#000" stroke-width="2.35" fill="none"/>
<text class="b" font-size="15.27" text-anchor="end" transform="translate(68.3 650.1) scale(0.92 1)">300</text>
<path d="M71.5 597.6 h-3.9" stroke="#000" stroke-width="2.35" fill="none"/>
<text class="b" font-size="15.27" text-anchor="end" transform="translate(68.3 603.15) scale(0.92 1)">400</text>
<text font-size="31.8" x="1.4" y="694.1">E</text>
<text class="b" font-size="16" text-anchor="middle" transform="translate(40.4 686.7) rotate(-90)">Il-18 (pg/mL)</text>
<text class="b" font-size="15.2" text-anchor="middle" x="203" y="868.6">Drug Concentrations</text>
</g>
<g id="panel-F">
<path d="M485.1 697 V680 M478.2 680 H492" stroke="#000" stroke-width="2.58" fill="none" stroke-linecap="round"/>
<rect x="471.53" y="697.23" width="27.15" height="86.98" fill="#fff" stroke="#000" stroke-width="2.45" stroke-linejoin="round"/>
<path d="M485.1 784.2 v3.7" stroke="#000" stroke-width="2.4" fill="none"/>
<text class="b" font-size="14.37" text-anchor="end" transform="translate(490.2 799.4) rotate(-45)">Control</text>
<path d="M525.38 632 V620 M518.48 620 H532.28" stroke="#000" stroke-width="2.58" fill="none" stroke-linecap="round"/>
<rect x="511.81" y="632.23" width="27.15" height="151.98" fill="#000" stroke="#000" stroke-width="2.45" stroke-linejoin="round"/>
<text class="b" x="525.38" y="611.9" font-size="12.12" text-anchor="middle" textLength="11.81" lengthAdjust="spacingAndGlyphs" style="stroke-width:0.45px">##</text>
<path d="M525.38 784.2 v3.7" stroke="#000" stroke-width="2.4" fill="none"/>
<text class="b" font-size="14.37" text-anchor="end" transform="translate(530.48 799.4) rotate(-45)">HPS</text>
<path d="M565.66 688 V679 M558.76 679 H572.56" stroke="#000" stroke-width="2.58" fill="none" stroke-linecap="round"/>
<rect x="552.09" y="688.23" width="27.15" height="95.98" fill="url(#hatch)" stroke="#000" stroke-width="2.45" stroke-linejoin="round"/>
<path d="M0 0L0.00 -2.95M0 0L2.81 -0.91M0 0L1.73 2.39M0 0L-1.73 2.39M0 0L-2.81 -0.91" transform="translate(561.51 669.78) scale(1.12)" stroke="#000" stroke-width="1.05" fill="none"/>
<path d="M0 0L0.00 -2.95M0 0L2.81 -0.91M0 0L1.73 2.39M0 0L-1.73 2.39M0 0L-2.81 -0.91" transform="translate(569.81 669.78) scale(1.12)" stroke="#000" stroke-width="1.05" fill="none"/>
<path d="M565.66 784.2 v3.7" stroke="#000" stroke-width="2.4" fill="none"/>
<text class="b" font-size="14.37" text-anchor="end" transform="translate(570.76 799.4) rotate(-45)">NAC</text>
<path d="M605.94 646.4 V638.4 M599.04 638.4 H612.84" stroke="#000" stroke-width="2.58" fill="none" stroke-linecap="round"/>
<rect x="592.37" y="646.62" width="27.15" height="137.58" fill="url(#dots)" stroke="#000" stroke-width="2.45" stroke-linejoin="round"/>
<path d="M605.94 784.2 v3.7" stroke="#000" stroke-width="2.4" fill="none"/>
<text class="b" font-size="14.37" text-anchor="end" transform="translate(611.04 799.4) rotate(-45)">12.5 µg/mL</text>
<path d="M646.22 673.6 V656 M639.32 656 H653.12" stroke="#000" stroke-width="2.58" fill="none" stroke-linecap="round"/>
<rect x="632.65" y="673.83" width="27.15" height="110.38" fill="url(#dots)" stroke="#000" stroke-width="2.45" stroke-linejoin="round"/>
<path d="M0 0L0.00 -2.95M0 0L2.81 -0.91M0 0L1.73 2.39M0 0L-1.73 2.39M0 0L-2.81 -0.91" transform="translate(642.07 649.08) scale(1.12)" stroke="#000" stroke-width="1.05" fill="none"/>
<path d="M0 0L0.00 -2.95M0 0L2.81 -0.91M0 0L1.73 2.39M0 0L-1.73 2.39M0 0L-2.81 -0.91" transform="translate(650.37 649.08) scale(1.12)" stroke="#000" stroke-width="1.05" fill="none"/>
<path d="M646.22 784.2 v3.7" stroke="#000" stroke-width="2.4" fill="none"/>
<text class="b" font-size="14.37" text-anchor="end" transform="translate(651.32 799.4) rotate(-45)">25 µg/mL</text>
<path d="M686.5 684.1 V671.9 M679.6 671.9 H693.4" stroke="#000" stroke-width="2.58" fill="none" stroke-linecap="round"/>
<rect x="672.93" y="684.33" width="27.15" height="99.88" fill="url(#dots)" stroke="#000" stroke-width="2.45" stroke-linejoin="round"/>
<path d="M0 0L0.00 -2.95M0 0L2.81 -0.91M0 0L1.73 2.39M0 0L-1.73 2.39M0 0L-2.81 -0.91" transform="translate(682.35 662.28) scale(1.12)" stroke="#000" stroke-width="1.05" fill="none"/>
<path d="M0 0L0.00 -2.95M0 0L2.81 -0.91M0 0L1.73 2.39M0 0L-1.73 2.39M0 0L-2.81 -0.91" transform="translate(690.65 662.28) scale(1.12)" stroke="#000" stroke-width="1.05" fill="none"/>
<path d="M686.5 784.2 v3.7" stroke="#000" stroke-width="2.4" fill="none"/>
<text class="b" font-size="14.37" text-anchor="end" transform="translate(691.6 799.4) rotate(-45)">50 µg/mL</text>
<path d="M726.78 703.2 V684.3 M719.88 684.3 H733.68" stroke="#000" stroke-width="2.58" fill="none" stroke-linecap="round"/>
<rect x="713.21" y="703.42" width="27.15" height="80.78" fill="url(#dots)" stroke="#000" stroke-width="2.45" stroke-linejoin="round"/>
<path d="M0 0L0.00 -2.95M0 0L2.81 -0.91M0 0L1.73 2.39M0 0L-1.73 2.39M0 0L-2.81 -0.91" transform="translate(722.63 677.38) scale(1.12)" stroke="#000" stroke-width="1.05" fill="none"/>
<path d="M0 0L0.00 -2.95M0 0L2.81 -0.91M0 0L1.73 2.39M0 0L-1.73 2.39M0 0L-2.81 -0.91" transform="translate(730.93 677.38) scale(1.12)" stroke="#000" stroke-width="1.05" fill="none"/>
<path d="M726.78 784.2 v3.7" stroke="#000" stroke-width="2.4" fill="none"/>
<text class="b" font-size="14.37" text-anchor="end" transform="translate(731.88 799.4) rotate(-45)">100 µg/mL</text>
<path d="M464.8 594.4 V784.2 H747.4" stroke="#000" stroke-width="2.7" fill="none" stroke-linejoin="miter"/>
<path d="M464.8 784.2 h-3.9" stroke="#000" stroke-width="2.35" fill="none"/>
<text class="b" font-size="15.22" text-anchor="end" transform="translate(461.6 789.74) scale(0.92 1)">0</text>
<path d="M464.8 746.48 h-3.9" stroke="#000" stroke-width="2.35" fill="none"/>
<text class="b" font-size="15.22" text-anchor="end" transform="translate(461.6 752.02) scale(0.92 1)">50</text>
<path d="M464.8 708.76 h-3.9" stroke="#000" stroke-width="2.35" fill="none"/>
<text class="b" font-size="15.22" text-anchor="end" transform="translate(461.6 714.3) scale(0.92 1)">100</text>
<path d="M464.8 671.04 h-3.9" stroke="#000" stroke-width="2.35" fill="none"/>
<text class="b" font-size="15.22" text-anchor="end" transform="translate(461.6 676.58) scale(0.92 1)">150</text>
<path d="M464.8 633.32 h-3.9" stroke="#000" stroke-width="2.35" fill="none"/>
<text class="b" font-size="15.22" text-anchor="end" transform="translate(461.6 638.86) scale(0.92 1)">200</text>
<path d="M464.8 595.6 h-3.9" stroke="#000" stroke-width="2.35" fill="none"/>
<text class="b" font-size="15.22" text-anchor="end" transform="translate(461.6 601.14) scale(0.92 1)">250</text>
<text font-size="31.8" x="396.3" y="690.6">F</text>
<text class="b" font-size="15.15" text-anchor="middle" transform="translate(434.4 685.5) rotate(-90)">TNF-<tspan font-style="italic">α</tspan>  (pg/mL)</text>
<text class="b" font-size="15.15" text-anchor="middle" x="596" y="867">Drug Concentrations</text>
</g>
<g id="panel-G">
<path d="M104.4 1008.4 V1004 M97.5 1004 H111.3" stroke="#000" stroke-width="2.47" fill="none" stroke-linecap="round"/>
<rect x="91.52" y="1008.62" width="25.75" height="80.67" fill="#fff" stroke="#000" stroke-width="2.45" stroke-linejoin="round"/>
<path d="M104.4 1089.3 v3.7" stroke="#000" stroke-width="2.4" fill="none"/>
<text class="b" font-size="13.7" text-anchor="end" transform="translate(109 1104.2) rotate(-45)">Control</text>
<path d="M142.73 938.9 V932.4 M135.83 932.4 H149.63" stroke="#000" stroke-width="2.47" fill="none" stroke-linecap="round"/>
<rect x="129.85" y="939.12" width="25.75" height="150.17" fill="#000" stroke="#000" stroke-width="2.45" stroke-linejoin="round"/>
<text class="b" x="142.73" y="926.4" font-size="11.6" text-anchor="middle" textLength="11.57" lengthAdjust="spacingAndGlyphs" style="stroke-width:0.45px">##</text>
<path d="M142.73 1089.3 v3.7" stroke="#000" stroke-width="2.4" fill="none"/>
<text class="b" font-size="13.7" text-anchor="end" transform="translate(147.33 1104.2) rotate(-45)">HPS</text>
<path d="M181.06 1013.8 V1009.4 M174.16 1009.4 H187.96" stroke="#000" stroke-width="2.47" fill="none" stroke-linecap="round"/>
<rect x="168.18" y="1014.02" width="25.75" height="75.28" fill="url(#hatch)" stroke="#000" stroke-width="2.45" stroke-linejoin="round"/>
<path d="M0 0L0.00 -2.95M0 0L2.81 -0.91M0 0L1.73 2.39M0 0L-1.73 2.39M0 0L-2.81 -0.91" transform="translate(177.09 998.46) scale(1.07)" stroke="#000" stroke-width="1.05" fill="none"/>
<path d="M0 0L0.00 -2.95M0 0L2.81 -0.91M0 0L1.73 2.39M0 0L-1.73 2.39M0 0L-2.81 -0.91" transform="translate(185.03 998.46) scale(1.07)" stroke="#000" stroke-width="1.05" fill="none"/>
<path d="M181.06 1089.3 v3.7" stroke="#000" stroke-width="2.4" fill="none"/>
<text class="b" font-size="13.7" text-anchor="end" transform="translate(185.66 1104.2) rotate(-45)">NAC</text>
<path d="M219.39 950.8 V942.6 M212.49 942.6 H226.29" stroke="#000" stroke-width="2.47" fill="none" stroke-linecap="round"/>
<rect x="206.51" y="951.02" width="25.75" height="138.28" fill="url(#dots)" stroke="#000" stroke-width="2.45" stroke-linejoin="round"/>
<path d="M0 0L0.00 -2.95M0 0L2.81 -0.91M0 0L1.73 2.39M0 0L-1.73 2.39M0 0L-2.81 -0.91" transform="translate(219.39 933.66) scale(1.07)" stroke="#000" stroke-width="1.05" fill="none"/>
<path d="M219.39 1089.3 v3.7" stroke="#000" stroke-width="2.4" fill="none"/>
<text class="b" font-size="13.7" text-anchor="end" transform="translate(223.99 1104.2) rotate(-45)">12.5 µg/mL</text>
<path d="M257.72 986.1 V980.5 M250.82 980.5 H264.62" stroke="#000" stroke-width="2.47" fill="none" stroke-linecap="round"/>
<rect x="244.84" y="986.33" width="25.75" height="102.97" fill="url(#dots)" stroke="#000" stroke-width="2.45" stroke-linejoin="round"/>
<path d="M0 0L0.00 -2.95M0 0L2.81 -0.91M0 0L1.73 2.39M0 0L-1.73 2.39M0 0L-2.81 -0.91" transform="translate(253.75 971.86) scale(1.07)" stroke="#000" stroke-width="1.05" fill="none"/>
<path d="M0 0L0.00 -2.95M0 0L2.81 -0.91M0 0L1.73 2.39M0 0L-1.73 2.39M0 0L-2.81 -0.91" transform="translate(261.69 971.86) scale(1.07)" stroke="#000" stroke-width="1.05" fill="none"/>
<path d="M257.72 1089.3 v3.7" stroke="#000" stroke-width="2.4" fill="none"/>
<text class="b" font-size="13.7" text-anchor="end" transform="translate(262.32 1104.2) rotate(-45)">25 µg/mL</text>
<path d="M296.05 988.3 V981.7 M289.15 981.7 H302.95" stroke="#000" stroke-width="2.47" fill="none" stroke-linecap="round"/>
<rect x="283.18" y="988.52" width="25.75" height="100.78" fill="url(#dots)" stroke="#000" stroke-width="2.45" stroke-linejoin="round"/>
<path d="M0 0L0.00 -2.95M0 0L2.81 -0.91M0 0L1.73 2.39M0 0L-1.73 2.39M0 0L-2.81 -0.91" transform="translate(292.08 974.06) scale(1.07)" stroke="#000" stroke-width="1.05" fill="none"/>
<path d="M0 0L0.00 -2.95M0 0L2.81 -0.91M0 0L1.73 2.39M0 0L-1.73 2.39M0 0L-2.81 -0.91" transform="translate(300.02 974.06) scale(1.07)" stroke="#000" stroke-width="1.05" fill="none"/>
<path d="M296.05 1089.3 v3.7" stroke="#000" stroke-width="2.4" fill="none"/>
<text class="b" font-size="13.7" text-anchor="end" transform="translate(300.65 1104.2) rotate(-45)">50 µg/mL</text>
<path d="M334.38 1016.7 V1010.7 M327.48 1010.7 H341.28" stroke="#000" stroke-width="2.47" fill="none" stroke-linecap="round"/>
<rect x="321.5" y="1016.92" width="25.75" height="72.38" fill="url(#dots)" stroke="#000" stroke-width="2.45" stroke-linejoin="round"/>
<path d="M0 0L0.00 -2.95M0 0L2.81 -0.91M0 0L1.73 2.39M0 0L-1.73 2.39M0 0L-2.81 -0.91" transform="translate(330.41 1003.76) scale(1.07)" stroke="#000" stroke-width="1.05" fill="none"/>
<path d="M0 0L0.00 -2.95M0 0L2.81 -0.91M0 0L1.73 2.39M0 0L-1.73 2.39M0 0L-2.81 -0.91" transform="translate(338.35 1003.76) scale(1.07)" stroke="#000" stroke-width="1.05" fill="none"/>
<path d="M334.38 1089.3 v3.7" stroke="#000" stroke-width="2.4" fill="none"/>
<text class="b" font-size="13.7" text-anchor="end" transform="translate(338.98 1104.2) rotate(-45)">100 µg/mL</text>
<path d="M85.5 908.2 V1089.3 H354.5" stroke="#000" stroke-width="2.7" fill="none" stroke-linejoin="miter"/>
<path d="M85.5 1089.3 h-3.9" stroke="#000" stroke-width="2.35" fill="none"/>
<text class="b" font-size="14.56" text-anchor="end" transform="translate(82.3 1094.62) scale(0.92 1)">0</text>
<path d="M85.5 1053.32 h-3.9" stroke="#000" stroke-width="2.35" fill="none"/>
<text class="b" font-size="14.56" text-anchor="end" transform="translate(82.3 1058.64) scale(0.92 1)">5000</text>
<path d="M85.5 1017.34 h-3.9" stroke="#000" stroke-width="2.35" fill="none"/>
<text class="b" font-size="14.56" text-anchor="end" transform="translate(82.3 1022.66) scale(0.92 1)">10000</text>
<path d="M85.5 981.36 h-3.9" stroke="#000" stroke-width="2.35" fill="none"/>
<text class="b" font-size="14.56" text-anchor="end" transform="translate(82.3 986.68) scale(0.92 1)">15000</text>
<path d="M85.5 945.38 h-3.9" stroke="#000" stroke-width="2.35" fill="none"/>
<text class="b" font-size="14.56" text-anchor="end" transform="translate(82.3 950.7) scale(0.92 1)">20000</text>
<path d="M85.5 909.4 h-3.9" stroke="#000" stroke-width="2.35" fill="none"/>
<text class="b" font-size="14.56" text-anchor="end" transform="translate(82.3 914.72) scale(0.92 1)">25000</text>
<text font-size="31.8" x="2" y="1001.4">G</text>
<text class="b" font-size="14.9" text-anchor="middle" transform="translate(39.7 994.5) rotate(-90)">PGE<tspan font-size="10.43" dy="3.22">2</tspan><tspan dy="-3.22"> (pg/mL)</tspan></text>
<text class="b" font-size="14.5" text-anchor="middle" x="210.5" y="1168.6">Drug Concentrations</text>
</g>
<g id="panel-H">
<path d="M495.45 1032.4 V1024.6 M488.55 1024.6 H502.35" stroke="#000" stroke-width="2.49" fill="none" stroke-linecap="round"/>
<rect x="482.53" y="1032.62" width="25.85" height="56.67" fill="#fff" stroke="#000" stroke-width="2.45" stroke-linejoin="round"/>
<path d="M495.45 1089.3 v3.7" stroke="#000" stroke-width="2.4" fill="none"/>
<text class="b" font-size="14.05" text-anchor="end" transform="translate(500.25 1104.6) rotate(-45)">Control</text>
<path d="M534.05 951.9 V943 M527.15 943 H540.95" stroke="#000" stroke-width="2.49" fill="none" stroke-linecap="round"/>
<rect x="521.12" y="952.12" width="25.85" height="137.17" fill="#000" stroke="#000" stroke-width="2.45" stroke-linejoin="round"/>
<text class="b" x="534.05" y="936.5" font-size="11.68" text-anchor="middle" textLength="11.61" lengthAdjust="spacingAndGlyphs" style="stroke-width:0.45px">##</text>
<path d="M534.05 1089.3 v3.7" stroke="#000" stroke-width="2.4" fill="none"/>
<text class="b" font-size="14.05" text-anchor="end" transform="translate(538.85 1104.6) rotate(-45)">HPS</text>
<path d="M572.65 1039.4 V1032.4 M565.75 1032.4 H579.55" stroke="#000" stroke-width="2.49" fill="none" stroke-linecap="round"/>
<rect x="559.73" y="1039.62" width="25.85" height="49.67" fill="url(#hatch)" stroke="#000" stroke-width="2.45" stroke-linejoin="round"/>
<path d="M0 0L0.00 -2.95M0 0L2.81 -0.91M0 0L1.73 2.39M0 0L-1.73 2.39M0 0L-2.81 -0.91" transform="translate(568.65 1025.22) scale(1.08)" stroke="#000" stroke-width="1.05" fill="none"/>
<path d="M0 0L0.00 -2.95M0 0L2.81 -0.91M0 0L1.73 2.39M0 0L-1.73 2.39M0 0L-2.81 -0.91" transform="translate(576.65 1025.22) scale(1.08)" stroke="#000" stroke-width="1.05" fill="none"/>
<path d="M572.65 1089.3 v3.7" stroke="#000" stroke-width="2.4" fill="none"/>
<text class="b" font-size="14.05" text-anchor="end" transform="translate(577.45 1104.6) rotate(-45)">NAC</text>
<path d="M611.25 965 V954.6 M604.35 954.6 H618.15" stroke="#000" stroke-width="2.49" fill="none" stroke-linecap="round"/>
<rect x="598.33" y="965.23" width="25.85" height="124.07" fill="url(#dots)" stroke="#000" stroke-width="2.45" stroke-linejoin="round"/>
<path d="M611.25 1089.3 v3.7" stroke="#000" stroke-width="2.4" fill="none"/>
<text class="b" font-size="14.05" text-anchor="end" transform="translate(616.05 1104.6) rotate(-45)">12.5 µg/mL</text>
<path d="M649.85 972.8 V960.3 M642.95 960.3 H656.75" stroke="#000" stroke-width="2.49" fill="none" stroke-linecap="round"/>
<rect x="636.93" y="973.02" width="25.85" height="116.28" fill="url(#dots)" stroke="#000" stroke-width="2.45" stroke-linejoin="round"/>
<path d="M0 0L0.00 -2.95M0 0L2.81 -0.91M0 0L1.73 2.39M0 0L-1.73 2.39M0 0L-2.81 -0.91" transform="translate(649.85 952.62) scale(1.08)" stroke="#000" stroke-width="1.05" fill="none"/>
<path d="M649.85 1089.3 v3.7" stroke="#000" stroke-width="2.4" fill="none"/>
<text class="b" font-size="14.05" text-anchor="end" transform="translate(654.65 1104.6) rotate(-45)">25 µg/mL</text>
<path d="M688.45 1017.8 V998.3 M681.55 998.3 H695.35" stroke="#000" stroke-width="2.49" fill="none" stroke-linecap="round"/>
<rect x="675.52" y="1018.02" width="25.85" height="71.28" fill="url(#dots)" stroke="#000" stroke-width="2.45" stroke-linejoin="round"/>
<path d="M0 0L0.00 -2.95M0 0L2.81 -0.91M0 0L1.73 2.39M0 0L-1.73 2.39M0 0L-2.81 -0.91" transform="translate(684.45 991.32) scale(1.08)" stroke="#000" stroke-width="1.05" fill="none"/>
<path d="M0 0L0.00 -2.95M0 0L2.81 -0.91M0 0L1.73 2.39M0 0L-1.73 2.39M0 0L-2.81 -0.91" transform="translate(692.45 991.32) scale(1.08)" stroke="#000" stroke-width="1.05" fill="none"/>
<path d="M688.45 1089.3 v3.7" stroke="#000" stroke-width="2.4" fill="none"/>
<text class="b" font-size="14.05" text-anchor="end" transform="translate(693.25 1104.6) rotate(-45)">50 µg/mL</text>
<path d="M727.05 1036.8 V1030.4 M720.15 1030.4 H733.95" stroke="#000" stroke-width="2.49" fill="none" stroke-linecap="round"/>
<rect x="714.13" y="1037.03" width="25.85" height="52.27" fill="url(#dots)" stroke="#000" stroke-width="2.45" stroke-linejoin="round"/>
<path d="M0 0L0.00 -2.95M0 0L2.81 -0.91M0 0L1.73 2.39M0 0L-1.73 2.39M0 0L-2.81 -0.91" transform="translate(723.05 1022.72) scale(1.08)" stroke="#000" stroke-width="1.05" fill="none"/>
<path d="M0 0L0.00 -2.95M0 0L2.81 -0.91M0 0L1.73 2.39M0 0L-1.73 2.39M0 0L-2.81 -0.91" transform="translate(731.05 1022.72) scale(1.08)" stroke="#000" stroke-width="1.05" fill="none"/>
<path d="M727.05 1089.3 v3.7" stroke="#000" stroke-width="2.4" fill="none"/>
<text class="b" font-size="14.05" text-anchor="end" transform="translate(731.85 1104.6) rotate(-45)">100 µg/mL</text>
<path d="M476.5 908.2 V1089.3 H746.7" stroke="#000" stroke-width="2.7" fill="none" stroke-linejoin="miter"/>
<path d="M476.5 1089.3 h-3.9" stroke="#000" stroke-width="2.35" fill="none"/>
<text class="b" font-size="14.66" text-anchor="end" transform="translate(473.3 1094.65) scale(0.92 1)">0</text>
<path d="M476.5 1053.32 h-3.9" stroke="#000" stroke-width="2.35" fill="none"/>
<text class="b" font-size="14.66" text-anchor="end" transform="translate(473.3 1058.67) scale(0.92 1)">5000</text>
<path d="M476.5 1017.34 h-3.9" stroke="#000" stroke-width="2.35" fill="none"/>
<text class="b" font-size="14.66" text-anchor="end" transform="translate(473.3 1022.69) scale(0.92 1)">10000</text>
<path d="M476.5 981.36 h-3.9" stroke="#000" stroke-width="2.35" fill="none"/>
<text class="b" font-size="14.66" text-anchor="end" transform="translate(473.3 986.71) scale(0.92 1)">15000</text>
<path d="M476.5 945.38 h-3.9" stroke="#000" stroke-width="2.35" fill="none"/>
<text class="b" font-size="14.66" text-anchor="end" transform="translate(473.3 950.73) scale(0.92 1)">20000</text>
<path d="M476.5 909.4 h-3.9" stroke="#000" stroke-width="2.35" fill="none"/>
<text class="b" font-size="14.66" text-anchor="end" transform="translate(473.3 914.75) scale(0.92 1)">25000</text>
<text font-size="31.8" x="392.5" y="1004.1">H</text>
<text class="b" font-size="15.15" text-anchor="middle" transform="translate(432.1 994.7) rotate(-90)">COX-2 (pg/mL)</text>
<text class="b" font-size="14.6" text-anchor="middle" x="602.2" y="1169.4">Drug Concentrations</text>
</g>
</svg>
</body></html>
